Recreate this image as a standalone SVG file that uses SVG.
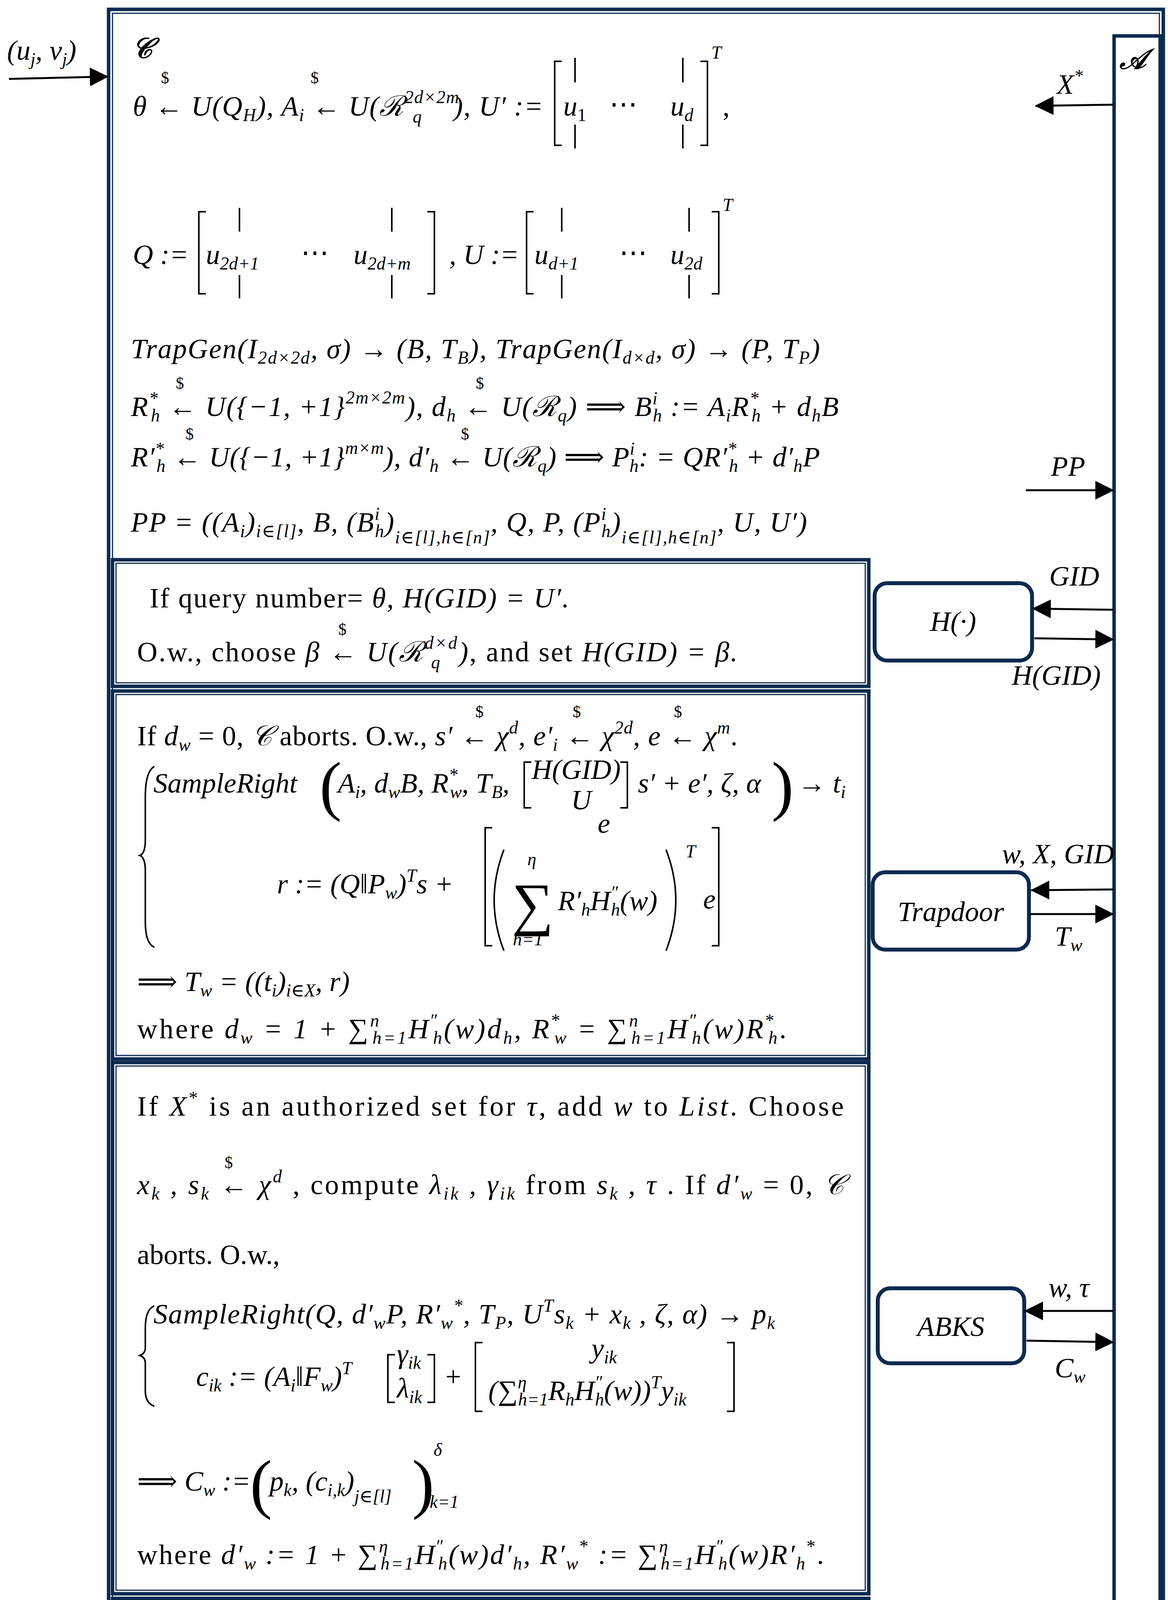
<svg xmlns="http://www.w3.org/2000/svg" width="2990" height="5414" viewBox="0 0 2990 5414">
<style>
.t{font-family:"Liberation Serif","DejaVu Serif",serif;font-size:72px;fill:#000}
.i{font-style:italic}
.u{font-style:normal}
.sm{font-size:46px}
.dl{font-size:42px;font-style:normal}
.big{font-size:170px;font-style:normal;font-weight:100}
.sig{font-size:150px;font-style:normal}
.bx{fill:none;stroke:#0c2a4f;stroke-width:9}
.bx2{fill:none;stroke:#0c2a4f;stroke-width:3}
.nd{fill:#fff;stroke:#0c2a4f;stroke-width:10}
.ln{stroke:#000;stroke-width:5;fill:none}
.br{stroke:#000;stroke-width:4;fill:none}
</style>
<defs>
<marker id="ah" markerUnits="userSpaceOnUse" markerWidth="50" markerHeight="50" refX="46" refY="24" orient="auto"><path d="M0,0 L48,24 L0,48 z" fill="#000"/></marker>
</defs>

<g id="frame">
<rect class="bx" x="278" y="24" width="2700" height="5360"/>
<rect class="bx2" x="288" y="34" width="2680" height="5340"/>
<rect id="A" class="bx" x="2852" y="92" width="118" height="5210"/>
<text class="t i" x="2866" y="176" font-weight="bold">𝒜</text>
<text class="t i" x="338" y="148" font-weight="bold">𝒞</text>
</g>

<g id="setup">
<text class="t i" x="340" y="296" textLength="1050">θ ← U(Q<tspan class="sm" dy="14">H</tspan><tspan dy="-14">), A</tspan><tspan class="sm" dy="14">i</tspan><tspan dy="-14"> ← U(ℛ</tspan><tspan class="sm" dy="-32">2d×2m</tspan><tspan class="sm" dx="-120" dy="50">q</tspan><tspan dx="80" dy="-18">), U′ :=</tspan></text>
<text class="t dl" x="412" y="213">$</text><text class="t dl" x="795" y="213">$</text>
<path class="br" d="M1438,157 H1420 V372 H1438 M1793,157 H1811 V372 H1793 M1472,148 V211 M1472,319 V380 M1748,148 V211 M1748,319 V380"/>
<text class="t i" x="1442" y="296">u<tspan class="sm u" dy="14">1</tspan></text>
<text class="t" x="1560" y="290">⋯</text>
<text class="t i" x="1716" y="296">u<tspan class="sm" dy="14">d</tspan></text>
<text class="t i sm" x="1821" y="150">T</text>
<text class="t" x="1850" y="296">,</text>

<text class="t i" x="340" y="676">Q :=</text>
<path class="br" d="M527,542 H509 V752 H527 M1094,542 H1112 V752 H1094 M613,532 V593 M613,704 V764 M1003,532 V593 M1003,704 V764"/>
<text class="t i" x="527" y="676">u<tspan class="sm" dy="14">2d+1</tspan></text>
<text class="t" x="770" y="670">⋯</text>
<text class="t i" x="905" y="676">u<tspan class="sm" dy="14">2d+m</tspan></text>
<text class="t i" x="1150" y="676">, U :=</text>
<path class="br" d="M1366,542 H1348 V752 H1366 M1822,542 H1840 V752 H1822 M1438,532 V593 M1438,704 V764 M1764,532 V593 M1764,704 V764"/>
<text class="t i" x="1368" y="676">u<tspan class="sm" dy="14">d+1</tspan></text>
<text class="t" x="1585" y="670">⋯</text>
<text class="t i" x="1716" y="676">u<tspan class="sm" dy="14">2d</tspan></text>
<text class="t i sm" x="1850" y="540">T</text>

<text class="t i" x="335" y="917" textLength="1764">TrapGen(I<tspan class="sm" dy="14">2d×2d</tspan><tspan dy="-14">, σ) → (B, T</tspan><tspan class="sm" dy="14">B</tspan><tspan dy="-14">), TrapGen(I</tspan><tspan class="sm" dy="14">d×d</tspan><tspan dy="-14">, σ) → (P, T</tspan><tspan class="sm" dy="14">P</tspan><tspan dy="-14">)</tspan></text>
<text class="t i" x="335" y="1065" textLength="1812">R<tspan class="sm" dy="-30">*</tspan><tspan class="sm" dx="-20" dy="44">h</tspan><tspan dy="-14"> ← U({−1, +1}</tspan><tspan class="sm" dy="-32">2m×2m</tspan><tspan dy="32">), d</tspan><tspan class="sm" dy="14">h</tspan><tspan dy="-14"> ← U(ℛ</tspan><tspan class="sm" dy="14">q</tspan><tspan dy="-14">) ⟹ B</tspan><tspan class="sm" dy="-30">i</tspan><tspan class="sm" dx="-14" dy="44">h</tspan><tspan dy="-14"> := A</tspan><tspan class="sm" dy="14">i</tspan><tspan dy="-14">R</tspan><tspan class="sm" dy="-30">*</tspan><tspan class="sm" dx="-20" dy="44">h</tspan><tspan dy="-14"> + d</tspan><tspan class="sm" dy="14">h</tspan><tspan dy="-14">B</tspan></text>
<text class="t dl" x="450" y="995">$</text><text class="t dl" x="1218" y="995">$</text>
<text class="t i" x="335" y="1194" textLength="1764">R′<tspan class="sm" dy="-30">*</tspan><tspan class="sm" dx="-20" dy="44">h</tspan><tspan dy="-14"> ← U({−1, +1}</tspan><tspan class="sm" dy="-32">m×m</tspan><tspan dy="32">), d′</tspan><tspan class="sm" dy="14">h</tspan><tspan dy="-14"> ← U(ℛ</tspan><tspan class="sm" dy="14">q</tspan><tspan dy="-14">) ⟹ P</tspan><tspan class="sm" dy="-30">i</tspan><tspan class="sm" dx="-14" dy="44">h</tspan><tspan dy="-14">: = QR′</tspan><tspan class="sm" dy="-30">*</tspan><tspan class="sm" dx="-20" dy="44">h</tspan><tspan dy="-14"> + d′</tspan><tspan class="sm" dy="14">h</tspan><tspan dy="-14">P</tspan></text>
<text class="t dl" x="475" y="1125">$</text><text class="t dl" x="1180" y="1125">$</text>
<text class="t i" x="335" y="1361" textLength="1731">PP = ((A<tspan class="sm" dy="14">i</tspan><tspan dy="-14">)</tspan><tspan class="sm" dy="14">i∈[l]</tspan><tspan dy="-14">, B, (B</tspan><tspan class="sm" dy="-30">i</tspan><tspan class="sm" dx="-14" dy="44">h</tspan><tspan dy="-14">)</tspan><tspan class="sm" dy="30">i∈[l],h∈[n]</tspan><tspan dy="-30">, Q, P, (P</tspan><tspan class="sm" dy="-30">i</tspan><tspan class="sm" dx="-14" dy="44">h</tspan><tspan dy="-14">)</tspan><tspan class="sm" dy="30">i∈[l],h∈[n]</tspan><tspan dy="-30">, U, U′)</tspan></text>
</g>

<g id="hash">
<rect class="bx" x="288" y="1433" width="1936" height="324"/>
<rect class="bx2" x="297" y="1442" width="1918" height="306"/>
<text class="t" x="383" y="1555" textLength="1074">If query number= <tspan class="i">θ, H(GID) = U′.</tspan></text>
<text class="t" x="351" y="1693" textLength="1537">O.w., choose <tspan class="i">β ← U(ℛ</tspan><tspan class="sm i" dy="-32">d×d</tspan><tspan class="sm i" dx="-70" dy="50">q</tspan><tspan dx="45" dy="-18" class="i">)</tspan>, and set <tspan class="i">H(GID) = β.</tspan></text>
<text class="t dl" x="866" y="1625">$</text>
</g>

<g id="trapdoor">
<rect class="bx" x="288" y="1769" width="1936" height="942"/>
<rect class="bx2" x="297" y="1778" width="1918" height="924"/>
<text class="t" x="351" y="1908" textLength="1537">If <tspan class="i">d</tspan><tspan class="sm i" dy="14">w</tspan><tspan dy="-14"> = 0, </tspan><tspan class="i">𝒞</tspan> aborts. O.w., <tspan class="i">s′ ← χ</tspan><tspan class="sm i" dy="-30">d</tspan><tspan class="i" dy="30">, e′</tspan><tspan class="sm i" dy="14">i</tspan><tspan class="i" dy="-14"> ← χ</tspan><tspan class="sm i" dy="-30">2d</tspan><tspan class="i" dy="30">, e ← χ</tspan><tspan class="sm i" dy="-30">m</tspan><tspan dy="30">.</tspan></text>
<text class="t dl" x="1217" y="1836">$</text><text class="t dl" x="1466" y="1836">$</text><text class="t dl" x="1725" y="1836">$</text>
<path class="br" d="M395,1962 Q372,1975 372,2040 V2150 Q372,2185 358,2190 Q372,2195 372,2230 V2360 Q372,2415 395,2425"/>
<text class="t i" x="393" y="2029">SampleRight</text>
<text class="t big" x="818" y="2068" textLength="40">(</text>
<text class="t i" x="865" y="2029">A<tspan class="sm" dy="14">i</tspan><tspan dy="-14">, d</tspan><tspan class="sm" dy="14">w</tspan><tspan dy="-14">B, R</tspan><tspan class="sm" dy="-30">*</tspan><tspan class="sm" dx="-20" dy="44">w</tspan><tspan dy="-14">, T</tspan><tspan class="sm" dy="14">B</tspan><tspan dy="-14">,</tspan></text>
<path class="br" d="M1360,1951 H1342 V2068 H1360 M1588,1951 H1606 V2068 H1588"/>
<text class="t i" x="1361" y="1994" textLength="228">H(GID)</text>
<text class="t i" x="1462" y="2072">U</text>
<text class="t i" x="1633" y="2029">s′ + e′, ζ, α</text>
<text class="t big" x="1975" y="2068" textLength="40">)</text>
<text class="t i" x="2042" y="2029">→ t<tspan class="sm" dy="14">i</tspan></text>
<text class="t i" x="1530" y="2132">e</text>
<text class="t i" x="709" y="2287">r := (Q‖P<tspan class="sm" dy="14">w</tspan><tspan dy="-14">)</tspan><tspan class="sm" dy="-30">T</tspan><tspan dy="30">s +</tspan></text>
<path class="br" d="M1260,2119 H1242 V2421 H1260 M1822,2119 H1840 V2421 H1822"/>
<path class="br" d="M1290,2175 Q1240,2305 1290,2434 M1705,2175 Q1755,2305 1705,2434"/>
<text class="t sig" x="1310" y="2365">∑</text>
<text class="t i sm" x="1350" y="2215">η</text>
<text class="t i sm" x="1313" y="2420">h=1</text>
<text class="t i" x="1428" y="2330">R′<tspan class="sm" dy="14">h</tspan><tspan dy="-14">H</tspan><tspan class="sm" dy="-30">″</tspan><tspan class="sm" dx="-18" dy="44">h</tspan><tspan dy="-14">(w)</tspan></text>
<text class="t i sm" x="1755" y="2195">T</text>
<text class="t i" x="1800" y="2326">e</text>
<text class="t i" x="351" y="2537">⟹ T<tspan class="sm" dy="14">w</tspan><tspan dy="-14"> = ((t</tspan><tspan class="sm" dy="14">i</tspan><tspan dy="-14">)</tspan><tspan class="sm" dy="14">i∈X</tspan><tspan dy="-14">, r)</tspan></text>
<text class="t" x="351" y="2658" textLength="1662">where <tspan class="i">d</tspan><tspan class="sm i" dy="14">w</tspan><tspan class="i" dy="-14"> = 1 + ∑</tspan><tspan class="sm i" dy="-30">n</tspan><tspan class="sm i" dx="-22" dy="44">h=1</tspan><tspan class="i" dy="-14">H</tspan><tspan class="sm" dy="-30">″</tspan><tspan class="sm i" dx="-18" dy="44">h</tspan><tspan class="i" dy="-14">(w)d</tspan><tspan class="sm i" dy="14">h</tspan><tspan class="i" dy="-14">, R</tspan><tspan class="sm" dy="-30">*</tspan><tspan class="sm i" dx="-20" dy="44">w</tspan><tspan class="i" dy="-14"> = ∑</tspan><tspan class="sm i" dy="-30">n</tspan><tspan class="sm i" dx="-22" dy="44">h=1</tspan><tspan class="i" dy="-14">H</tspan><tspan class="sm" dy="-30">″</tspan><tspan class="sm i" dx="-18" dy="44">h</tspan><tspan class="i" dy="-14">(w)R</tspan><tspan class="sm" dy="-30">*</tspan><tspan class="sm i" dx="-20" dy="44">h</tspan><tspan dy="-14">.</tspan></text>
</g>

<g id="abks">
<rect class="bx" x="288" y="2720" width="1936" height="1360"/>
<rect class="bx2" x="297" y="2729" width="1918" height="1342"/>
<text class="t" x="351" y="2856" textLength="1809">If <tspan class="i">X</tspan><tspan class="sm" dy="-30">*</tspan><tspan dy="30"> is an authorized set for </tspan><tspan class="i">τ</tspan>, add <tspan class="i">w</tspan> to <tspan class="i">List</tspan>. Choose</text>
<text class="t" x="351" y="3057" textLength="1809"><tspan class="i">x</tspan><tspan class="sm i" dy="14">k</tspan><tspan class="i" dy="-14"> , s</tspan><tspan class="sm i" dy="14">k</tspan><tspan class="i" dy="-14"> ← χ</tspan><tspan class="sm i" dy="-30">d</tspan><tspan dy="30"> , compute </tspan><tspan class="i">λ</tspan><tspan class="sm i" dy="14">ik</tspan><tspan class="i" dy="-14"> , γ</tspan><tspan class="sm i" dy="14">ik</tspan><tspan dy="-14"> from </tspan><tspan class="i">s</tspan><tspan class="sm i" dy="14">k</tspan><tspan class="i" dy="-14"> , τ</tspan> . If <tspan class="i">d′</tspan><tspan class="sm i" dy="14">w</tspan><tspan dy="-14"> = 0, </tspan><tspan class="i">𝒞</tspan></text>
<text class="t dl" x="575" y="2990">$</text>
<text class="t" x="351" y="3236">aborts. O.w.,</text>
<path class="br" d="M395,3343 Q372,3352 372,3400 V3450 Q372,3465 358,3470 Q372,3475 372,3490 V3560 Q372,3592 395,3600"/>
<text class="t i" x="393" y="3388" textLength="1591">SampleRight(Q, d′<tspan class="sm" dy="14">w</tspan><tspan dy="-14">P, R′</tspan><tspan class="sm" dy="14">w</tspan><tspan class="sm" dy="-44">*</tspan><tspan dy="30">, T</tspan><tspan class="sm" dy="14">P</tspan><tspan dy="-14">, U</tspan><tspan class="sm" dy="-30">T</tspan><tspan dy="30">s</tspan><tspan class="sm" dy="14">k</tspan><tspan dy="-14"> + x</tspan><tspan class="sm" dy="14">k</tspan><tspan dy="-14"> , ζ, α) → p</tspan><tspan class="sm" dy="14">k</tspan></text>
<text class="t i" x="502" y="3548">c<tspan class="sm" dy="14">ik</tspan><tspan dy="-14"> := (A</tspan><tspan class="sm" dy="14">i</tspan><tspan dy="-14">‖F</tspan><tspan class="sm" dy="14">w</tspan><tspan dy="-14">)</tspan><tspan class="sm" dy="-30">T</tspan></text>
<path class="br" d="M1011,3468 H993 V3590 H1011 M1094,3468 H1112 V3590 H1094"/>
<text class="t i" x="1016" y="3490">γ<tspan class="sm" dy="14">ik</tspan></text>
<text class="t i" x="1016" y="3578">λ<tspan class="sm" dy="14">ik</tspan></text>
<text class="t" x="1140" y="3548">+</text>
<path class="br" d="M1235,3437 H1217 V3613 H1235 M1861,3437 H1879 V3613 H1861"/>
<text class="t i" x="1514" y="3476">y<tspan class="sm" dy="14">ik</tspan></text>
<text class="t i" x="1250" y="3584">(∑<tspan class="sm" dy="-30">η</tspan><tspan class="sm" dx="-22" dy="44">h=1</tspan><tspan dy="-14">R</tspan><tspan class="sm" dy="14">h</tspan><tspan dy="-14">H</tspan><tspan class="sm" dy="-30">″</tspan><tspan class="sm" dx="-18" dy="44">h</tspan><tspan dy="-14">(w))</tspan><tspan class="sm" dy="-30">T</tspan><tspan dy="30">y</tspan><tspan class="sm" dy="14">ik</tspan></text>
<text class="t i" x="351" y="3816">⟹ C<tspan class="sm" dy="14">w</tspan><tspan dy="-14"> :=</tspan></text>
<text class="t big" x="640" y="3855" textLength="40">(</text>
<text class="t i" x="690" y="3816">p<tspan class="sm" dy="14">k</tspan><tspan dy="-14">, (c</tspan><tspan class="sm" dy="14">i,k</tspan><tspan dy="-14">)</tspan><tspan class="sm" dy="30">j∈[l]</tspan></text>
<text class="t big" x="1055" y="3855" textLength="40">)</text>
<text class="t i sm" x="1110" y="3727">δ</text>
<text class="t i sm" x="1100" y="3860">k=1</text>
<text class="t" x="351" y="4004" textLength="1758">where <tspan class="i">d′</tspan><tspan class="sm i" dy="14">w</tspan><tspan class="i" dy="-14"> := 1 + ∑</tspan><tspan class="sm i" dy="-30">η</tspan><tspan class="sm i" dx="-22" dy="44">h=1</tspan><tspan class="i" dy="-14">H</tspan><tspan class="sm" dy="-30">″</tspan><tspan class="sm i" dx="-18" dy="44">h</tspan><tspan class="i" dy="-14">(w)d′</tspan><tspan class="sm i" dy="14">h</tspan><tspan class="i" dy="-14">, R′</tspan><tspan class="sm i" dy="14">w</tspan><tspan class="sm" dy="-44">*</tspan><tspan class="i" dy="30"> := ∑</tspan><tspan class="sm i" dy="-30">η</tspan><tspan class="sm i" dx="-22" dy="44">h=1</tspan><tspan class="i" dy="-14">H</tspan><tspan class="sm" dy="-30">″</tspan><tspan class="sm i" dx="-18" dy="44">h</tspan><tspan class="i" dy="-14">(w)R′</tspan><tspan class="sm i" dy="14">h</tspan><tspan class="sm" dy="-44">*</tspan><tspan dy="30">.</tspan></text>
</g>

<g id="challenge">
<rect class="bx" x="288" y="4092" width="1936" height="1084"/>
<rect class="bx2" x="297" y="4101" width="1918" height="1066"/>
<text class="t" x="351" y="4215" textLength="1809">If <tspan class="i">w</tspan><tspan class="sm" dy="-30">*</tspan><tspan class="i" dy="30"> ∈ List</tspan> or <tspan class="i">H(GID</tspan><tspan class="sm" dy="-30">*</tspan><tspan class="i" dy="30">) ≠ U′</tspan> or <tspan class="i">d</tspan><tspan class="sm i" dy="14">w*</tspan><tspan class="i" dy="-14"> = 0</tspan> or <tspan class="i">d′</tspan><tspan class="sm i" dy="14">w*</tspan><tspan class="i" dy="-14"> ≠</tspan></text>
<text class="t" x="351" y="4341">0  , <tspan class="i">𝒞</tspan> aborts. O.w.,</text>
<path class="br" d="M395,4459 Q372,4470 372,4530 V4610 Q372,4635 358,4640 Q372,4645 372,4670 V4770 Q372,4818 395,4826"/>
<text class="t i" x="911" y="4537">r<tspan class="sm" dy="-30">*</tspan><tspan dy="30"> :=</tspan></text>
<path class="br" d="M1120,4454 H1102 V4593 H1120 M1305,4454 H1323 V4593 H1305"/>
<text class="t i" x="1179" y="4495">V<tspan class="sm" dy="-30">*</tspan></text>
<text class="t i" x="1118" y="4576">R<tspan class="sm" dy="-30">*</tspan><tspan class="sm" dx="-20" dy="44">w*</tspan><tspan dy="-14">V</tspan><tspan class="sm" dy="-30">*</tspan></text>
<text class="t i" x="393" y="4746">SampleRight</text>
<path class="br" d="M860,4624 Q815,4728 860,4833 M1650,4624 Q1695,4728 1650,4833"/>
<text class="t i" x="872" y="4746">A<tspan class="sm" dy="14">i</tspan><tspan dy="-14">, d</tspan><tspan class="sm" dy="14">w*</tspan><tspan dy="-14">B, R</tspan><tspan class="sm" dy="-30">*</tspan><tspan class="sm" dx="-20" dy="44">w*</tspan><tspan dy="-14">, T</tspan><tspan class="sm" dy="14">B</tspan><tspan dy="-14">,</tspan></text>
<path class="br" d="M1414,4624 H1396 V4837 H1414 M1516,4624 H1534 V4837 H1516"/>
<text class="t i" x="1438" y="4655">v<tspan class="sm" dy="14">1</tspan></text>
<text class="t" x="1452" y="4748">⋮</text>
<text class="t i" x="1412" y="4815">v<tspan class="sm" dy="14">2d</tspan></text>
<text class="t i" x="1555" y="4746">, σ</text>
<text class="t i" x="1700" y="4746">→ t<tspan class="sm" dy="-30">*</tspan><tspan class="sm" dx="-20" dy="44">i</tspan></text>
<text class="t" x="351" y="5041"><tspan class="i">⇒ T</tspan><tspan class="sm i" dy="14">w*</tspan><tspan class="i" dy="-14"> := (r</tspan><tspan class="sm" dy="-30">*</tspan><tspan class="i" dy="30">, (t</tspan><tspan class="sm" dy="-30">*</tspan><tspan class="sm i" dx="-20" dy="44">i</tspan><tspan class="i" dy="-14">)</tspan><tspan class="sm i" dy="14">i∈X</tspan><tspan dy="-14">), where </tspan><tspan class="i">V</tspan><tspan class="sm" dy="-30">*</tspan><tspan class="i" dy="30"> :=</tspan></text>
<path class="br" d="M1494,4920 H1476 V5128 H1494 M1688,4920 H1706 V5128 H1688"/>
<text class="t i" x="1502" y="4960">v<tspan class="sm" dy="14">2d+1</tspan></text>
<text class="t" x="1577" y="5040">⋮</text>
<text class="t i" x="1495" y="5110">v<tspan class="sm" dy="14">2d+m</tspan></text>
<text class="t" x="1712" y="5041">.</text>
</g>

<g id="output">
<rect class="bx" x="288" y="5185" width="1936" height="174"/>
<rect class="bx2" x="297" y="5194" width="1918" height="156"/>
<text class="t i" x="351" y="5302">Output := b′</text>
</g>

<g id="node-hash">
<rect class="nd" x="2239" y="1493" width="403" height="198" rx="32"/>
<text class="t i" x="2440" y="1615" text-anchor="middle">H(·)</text>
</g>
<g id="node-trapdoor">
<rect class="nd" x="2234" y="2233" width="400" height="198" rx="32"/>
<text class="t i" x="2434" y="2358" text-anchor="middle">Trapdoor</text>
</g>
<g id="node-abks">
<rect class="nd" x="2247" y="3298" width="375" height="192" rx="32"/>
<text class="t i" x="2434" y="3420" text-anchor="middle">ABKS</text>
</g>

<g id="connectors">
<path class="ln" d="M23,202 L276,196" marker-end="url(#ah)"/>
<path class="ln" d="M2850,268 L2651,271" marker-end="url(#ah)"/>
<path class="ln" d="M2626,1255 L2850,1255" marker-end="url(#ah)"/>
<path class="ln" d="M2850,1561 L2644,1558" marker-end="url(#ah)"/>
<path class="ln" d="M2648,1634 L2850,1637" marker-end="url(#ah)"/>
<path class="ln" d="M2850,2277 L2640,2279" marker-end="url(#ah)"/>
<path class="ln" d="M2636,2340 L2850,2340" marker-end="url(#ah)"/>
<path class="ln" d="M2850,3356 L2624,3356" marker-end="url(#ah)"/>
<path class="ln" d="M2628,3432 L2850,3436" marker-end="url(#ah)"/>
<path class="ln" d="M2850,4259 L2626,4259" marker-end="url(#ah)"/>
<path class="ln" d="M2626,4780 L2850,4782" marker-end="url(#ah)"/>
<path class="ln" d="M2850,5222 L2655,5222" marker-end="url(#ah)"/>
<path class="ln" d="M278,5285 L90,5285" marker-end="url(#ah)"/>
</g>

<g id="labels">
<text class="t i" x="18" y="153">(u<tspan class="sm" dy="14">j</tspan><tspan dy="-14">, v</tspan><tspan class="sm" dy="14">j</tspan><tspan dy="-14">)</tspan></text>
<text class="t i" x="2705" y="240">X<tspan class="sm" dy="-30">*</tspan></text>
<text class="t i" x="2690" y="1218">PP</text>
<text class="t i" x="2686" y="1499">GID</text>
<text class="t i" x="2590" y="1753">H(GID)</text>
<text class="t i" x="2565" y="2210">w, X, GID</text>
<text class="t i" x="2700" y="2421">T<tspan class="sm" dy="14">w</tspan></text>
<text class="t i" x="2684" y="3320">w, τ</text>
<text class="t i" x="2700" y="3526">C<tspan class="sm" dy="14">w</tspan></text>
<text class="t i" x="2555" y="4224">w<tspan class="sm" dy="-30">*</tspan><tspan dy="30">, GID</tspan><tspan class="sm" dy="-30">*</tspan></text>
<text class="t i" x="2700" y="4867">T<tspan class="sm" dy="14">w*</tspan></text>
<text class="t i" x="2718" y="5189">b′</text>
<text class="t i" x="36" y="5250">Output</text>
</g>
</svg>
